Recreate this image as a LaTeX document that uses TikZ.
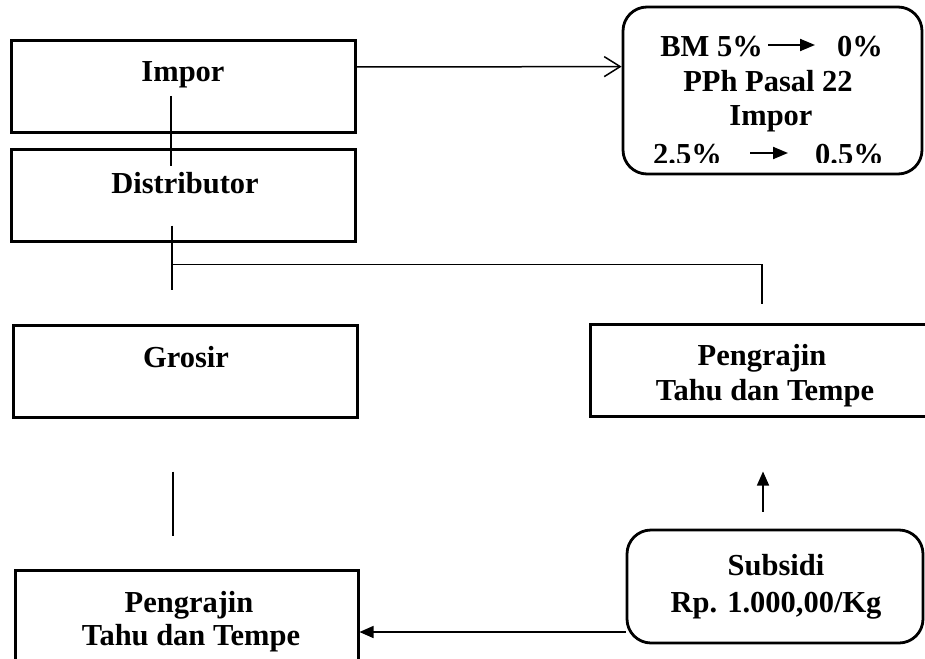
\documentclass[tikz,border=0pt]{standalone}
\usepackage{fontspec}
\setmainfont{Liberation Serif}
\usetikzlibrary{arrows.meta,calc}
\begin{document}
\begin{tikzpicture}[x=1pt,y=-1pt,
  box/.style={draw,line width=3pt,minimum width=344pt,minimum height=92pt,inner sep=0pt},
  rbox/.style={draw,line width=2.8pt,rounded corners=24pt,inner sep=0pt},
  txt/.style={font=\fontsize{30.5}{35}\selectfont\bfseries,inner sep=0pt,anchor=base},
  conn/.style={line width=1.5pt},
  solid arrow/.style={conn,-{Triangle[length=14pt,width=12pt]}},
  open arrow/.style={conn,-{Straight Barb[length=16pt,width=20pt,line width=1.5pt]}},
  txtarrow/.style={line width=2pt,-{Triangle[length=15pt,width=12pt]}}]
\useasboundingbox (0,0) rectangle (925,658);
\clip (0,0) rectangle (925,658);
% boxes
\node[box] (imp) at (183,86.5) {};
\node[box] (dist) at (183.5,195) {};
\node[box] (gros) at (185,371) {};
\node[box,minimum width=343pt] (pen1) at (186.5,616) {};
\node[box,minimum width=346pt] (pen2) at (763,370) {};
\node[rbox,minimum width=299pt,minimum height=167pt] (tr) at (772.5,90.5) {};
\node[rbox,minimum width=296pt,minimum height=113pt] (sub) at (775,586.5) {};
% texts
\node[txt] (impT) at (183,82) {Impor};
\node[txt] (distT) at (185,193) {Distributor};
\node[txt] (grosT) at (186,367) {Grosir};
\node[txt] (pen1a) at (189,612) {Pengrajin};
\node[txt] (pen1b) at (191,645) {Tahu dan Tempe};
\node[txt] (pen2a) at (762,365) {Pengrajin};
\node[txt] (pen2b) at (765,400) {Tahu dan Tempe};
\node[txt] (subA) at (776,575) {Subsidi};
\node[txt] (subB) at (776,612) {Rp. 1.000,00/Kg};
\node[txt,anchor=base east] (bm) at (763,57) {BM 5\%};
\node[txt,anchor=base west] (bm0) at (837,57) {0\%};
\draw[txtarrow] ($(bm.base east)+(5,-12)$) -- ($(bm0.base west)+(-22,-12)$);
\node[txt] (pph) at (768,92) {PPh Pasal 22};
\node[txt] (impr) at (771,125) {Impor};
\begin{scope}
\clip (600,132) rectangle (925,162);
\node[txt,anchor=base east] (p25) at (722,164) {2.5\%};
\node[txt,anchor=base west] (p05) at (815,164) {0.5\%};
\draw[txtarrow] ($(p25.base east)+(28,-11)$) -- ($(p05.base west)+(-27,-11)$);
\end{scope}
% connectors
\draw[open arrow] ($(imp.north east)+(0,28)$) -- ($(tr.north west)+(0,61)$);
\draw[conn] ($(imp.north)+(-12,57)$) -- ($(dist.north)+(-12.5,18)$);
\draw[conn] ($(dist.south)+(-11.5,-17)$) -- ($(gros.north)+(-13,-34)$);
\draw[conn] ($(dist.south)+(-11.5,22)$) -| ($(pen2.north)+(-1,-19)$);
\draw[conn] ($(gros.south)+(-12,53)$) -- ($(pen1.north)+(-13.5,-33)$);
\draw[solid arrow] ($(sub.north)+(-12,-17)$) -- ($(pen2.south)+(0,54)$);
\draw[solid arrow] ($(sub.west)+(0,45.5)$) -- ($(pen1.east)+(0,16)$);
\end{tikzpicture}
\end{document}
